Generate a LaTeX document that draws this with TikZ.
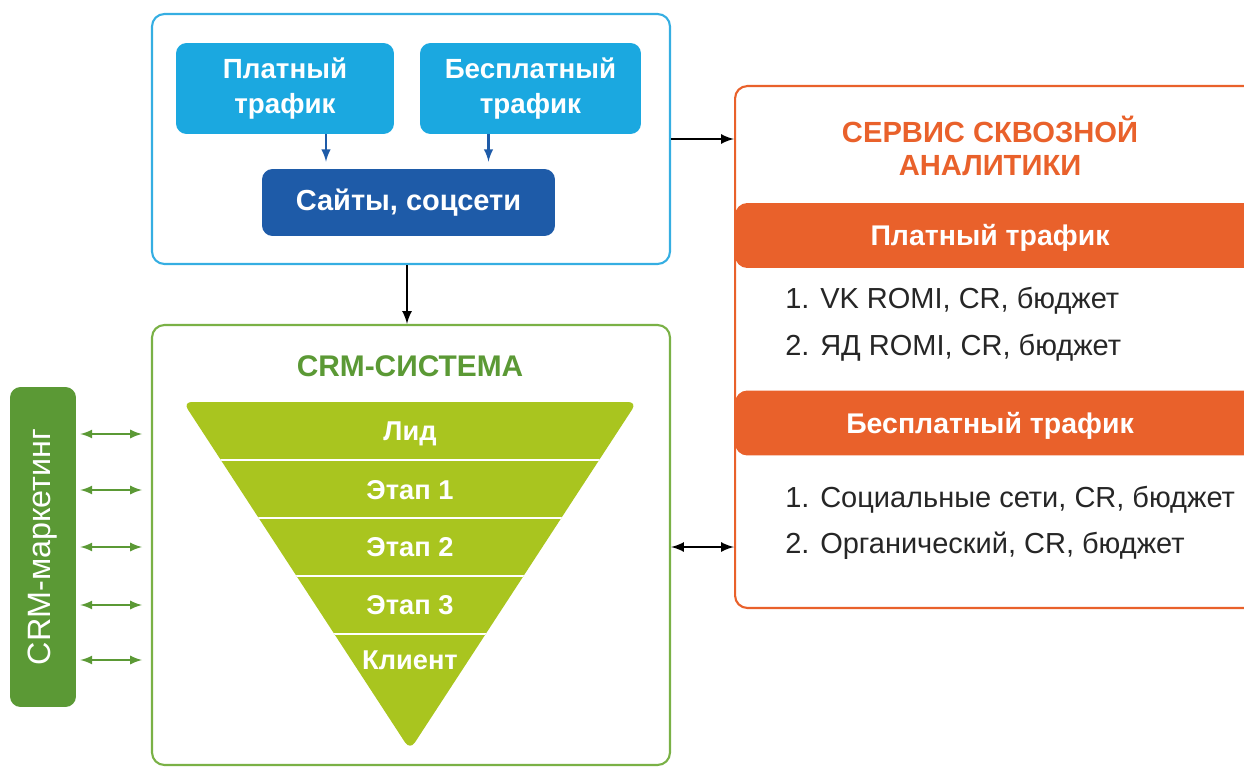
\documentclass[tikz,border=0pt]{standalone}
\usepackage{fontspec}
\setmainfont{Liberation Sans}
\usetikzlibrary{shapes, arrows}

\definecolor{skyblue}{HTML}{1BA8E0}
\definecolor{skyline}{HTML}{35AEE2}
\definecolor{navyblue}{HTML}{1E5BA8}
\definecolor{crmgreen}{HTML}{7AB146}
\definecolor{darkgreen}{HTML}{5B9935}
\definecolor{funnelgreen}{HTML}{A9C51F}
\definecolor{accent}{HTML}{E9612B}

\begin{document}
\begin{tikzpicture}[x=0.02cm, y=-0.02cm]
      \useasboundingbox (0,0) rectangle (1244,767);

      \tikzstyle{frame} = [
        rectangle,
        draw,
        line width = 1.2pt,
        rounded corners = 7pt,
        inner sep = 0pt
      ]

      \tikzstyle{source} = [
        rectangle,
        fill=skyblue,
        text=white,
        font=\bfseries\fontsize{15.8}{19.5}\selectfont,
        align=center,
        inner sep = 0pt,
        minimum height = 1.82cm,
        rounded corners = 6pt
      ]

      \tikzstyle{band} = [
        rectangle,
        fill=accent,
        inner sep = 0pt,
        minimum width = 10.5cm,
        minimum height = 1.3cm,
        rounded corners = 7pt
      ]

      \tikzstyle{bandtext} = [
        text=white,
        font=\bfseries\fontsize{16.2}{19}\selectfont,
        xshift=-0.15cm,
        yshift=-0.05cm
      ]

      \tikzstyle{item} = [
        anchor=west,
        inner sep = 0pt,
        text=black!85,
        font=\fontsize{16.5}{19}\selectfont
      ]

      \tikzstyle{stage} = [
        text=white,
        inner sep = 0pt,
        font=\bfseries\fontsize{15.5}{18}\selectfont
      ]

      \tikzstyle{crmlink} = [
        latex-latex,
        darkgreen,
        line width = 1.3pt,
        shorten < = 0.08cm,
        shorten > = 0.18cm
      ]

      % traffic sources
      \node[frame, draw=skyline, minimum width=10.36cm, minimum height=5cm] (traffic) at (411,139) {};
      \node[source, minimum width=4.36cm] (paid) at (285,88.5) {Платный\\трафик};
      \node[source, minimum width=4.42cm] (free) at (530.5,88.5) {Бесплатный\\трафик};
      \node[source, fill=navyblue, minimum width=5.86cm, minimum height=1.34cm, font=\bfseries\fontsize{16.5}{19}\selectfont] (sites) at (408.5,202.5) {Сайты, соцсети};

      % end-to-end analytics
      \node[frame, draw=accent, minimum width=10.5cm, minimum height=10.44cm] (service) at (997.5,347) {};
      \node[text=accent, font=\bfseries\fontsize{16.6}{18.7}\selectfont, align=center] (title) at (990,146) {СЕРВИС СКВОЗНОЙ\\АНАЛИТИКИ};
      \node[band, label={[bandtext]center:Платный трафик}] (paidband) at (997.5,235.5) {};
      \node[item] (vk) at (785,301) {1. VK ROMI, CR, бюджет};
      \node[item] (yd) at (785,348) {2. ЯД ROMI, CR, бюджет};
      \node[band, label={[bandtext]center:Бесплатный трафик}] (freeband) at (997.5,423) {};
      \node[item] (social) at (785,500) {1. Социальные сети, CR, бюджет};
      \node[item] (organic) at (785,546) {2. Органический, CR, бюджет};

      % crm funnel
      \node[frame, draw=crmgreen, minimum width=10.36cm, minimum height=8.8cm] (crm) at (411,545) {};
      \node[text=darkgreen, font=\bfseries\fontsize{17}{20}\selectfont] (crmtitle) at (410,366) {CRM-СИСТЕМА};
      \fill[funnelgreen, rounded corners=5pt] (183,402) -- (637,402) -- (410,750) -- cycle;
      \begin{scope}
        \clip (183,402) -- (637,402) -- (410,750) -- cycle;
        \draw[white, line width=1.6pt] (150,460) -- (680,460);
        \draw[white, line width=1.6pt] (150,518) -- (680,518);
        \draw[white, line width=1.6pt] (150,576) -- (680,576);
        \draw[white, line width=1.6pt] (150,634) -- (680,634);
      \end{scope}
      \node[stage] (lead) at (410,434) {Лид};
      \node[stage] (stage1) at (410,490) {Этап 1};
      \node[stage] (stage2) at (410,547) {Этап 2};
      \node[stage] (stage3) at (410,605) {Этап 3};
      \node[stage] (client) at (410,660) {Клиент};

      \node[rectangle, fill=darkgreen, rounded corners=6pt, rotate=90, inner sep=0pt,
        minimum width=6.4cm, minimum height=1.32cm, text=white,
        font=\fontsize{18.4}{21}\selectfont] (marketing) at (43,547) {CRM-маркетинг};

      \draw[-latex, navyblue, line width=1.4pt, shorten > = 0.14cm] ([xshift=0.82cm]paid.south) -- ([xshift=0.82cm]paid.south |- sites.north);
      \draw[-latex, navyblue, line width=1.4pt, shorten > = 0.14cm] ([xshift=-0.84cm]free.south) -- ([xshift=-0.84cm]free.south |- sites.north);
      \draw[-latex, line width=1.5pt] (traffic.east) -- (traffic.east -| service.west);
      \draw[-latex, line width=1.5pt] ([xshift=-0.08cm]traffic.south) -- ([xshift=-0.08cm]crm.north);
      \draw[latex-latex, line width=1.5pt] (stage2 -| crm.east) -- (stage2 -| service.west);
      \draw[crmlink] (lead -| marketing.south) -- (lead -| crm.west);
      \draw[crmlink] (stage1 -| marketing.south) -- (stage1 -| crm.west);
      \draw[crmlink] (stage2 -| marketing.south) -- (stage2 -| crm.west);
      \draw[crmlink] (stage3 -| marketing.south) -- (stage3 -| crm.west);
      \draw[crmlink] (client -| marketing.south) -- (client -| crm.west);
    \end{tikzpicture}
\end{document}
